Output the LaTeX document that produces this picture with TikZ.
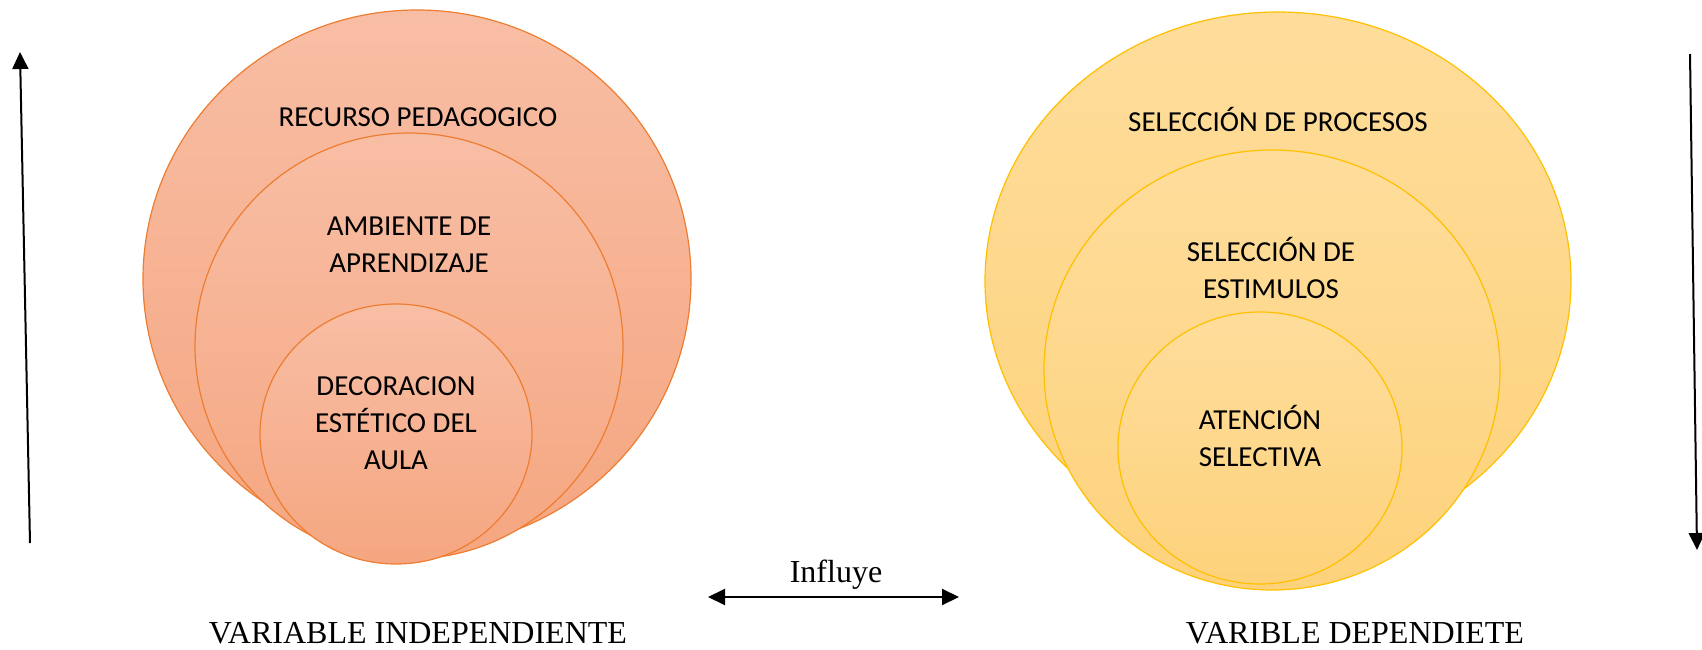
\documentclass[tikz,border=0pt]{standalone}
\usepackage{fontspec}
\setmainfont{Liberation Serif}
\newfontfamily\calib{Carlito}
\usetikzlibrary{shapes.geometric,arrows.meta}
\definecolor{peachtop}{RGB}{248,190,165}
\definecolor{peachbot}{RGB}{245,166,128}
\definecolor{peachline}{RGB}{237,125,49}
\definecolor{goldtop}{RGB}{254,221,156}
\definecolor{goldbot}{RGB}{253,210,123}
\definecolor{goldline}{RGB}{255,192,0}

\begin{document}
\begin{tikzpicture}[x=1pt,y=-1pt,
  peach/.style={ellipse,draw=peachline,line width=1.2pt,top color=peachtop,bottom color=peachbot,inner sep=0pt},
  gold/.style={ellipse,draw=goldline,line width=1.2pt,top color=goldtop,bottom color=goldbot,inner sep=0pt},
  txt/.style={font=\calib\fontsize{29}{37}\selectfont,align=center,inner sep=0pt},
  lbl/.style={font=\fontsize{32}{36}\selectfont,inner sep=0pt},
  arr/.style={line width=2pt,-{Triangle[length=17pt,width=16pt]}},
  darr/.style={line width=2pt,{Triangle[length=17pt,width=16pt]}-{Triangle[length=17pt,width=16pt]}}]
\useasboundingbox (0,0) rectangle (1702,650);
% left side
\node[peach,minimum width=548,minimum height=538] (rec) at (417,279) {};
\node[peach,minimum width=428,minimum height=426] (amb) at (409,346) {};
\node[peach,minimum width=272,minimum height=260] (dec) at (396,434) {};
\node[txt] (trec) at (418,117) {RECURSO PEDAGOGICO};
\node[txt] (tamb) at (409,245) {AMBIENTE DE\\APRENDIZAJE};
\node[txt] (tdec) at (396,423) {DECORACION\\ESTÉTICO DEL\\AULA};
% right side
\node[gold,minimum width=586,minimum height=538] (pro) at (1278,281) {};
\node[gold,minimum width=456,minimum height=440] (est) at (1272,370) {};
\node[gold,minimum width=284,minimum height=272] (ate) at (1260,448) {};
\node[txt] (tpro) at (1278,119) {SELECCIÓN DE PROCESOS};
\node[txt] (test) at (1271,268) {SELECCIÓN DE\\ESTIMULOS};
\node[txt] (tate) at (1260,436) {ATENCIÓN\\SELECTIVA};
% labels
\node[lbl] (vi) at (418,633) {VARIABLE INDEPENDIENTE};
\node[lbl] (vd) at (1355,633) {VARIBLE DEPENDIETE};
\node[lbl] (inf) at (836,575) {Influye};
% arrows
\coordinate (lb) at (30,543);
\coordinate (lt) at (20,52);
\coordinate (rt) at (1690,54);
\coordinate (rb) at (1697,550);
\coordinate (il) at (708,597);
\coordinate (ir) at (959,597);
\draw[arr] (lb) -- (lt);
\draw[arr] (rt) -- (rb);
\draw[darr] (il) -- (ir);
\end{tikzpicture}
\end{document}
